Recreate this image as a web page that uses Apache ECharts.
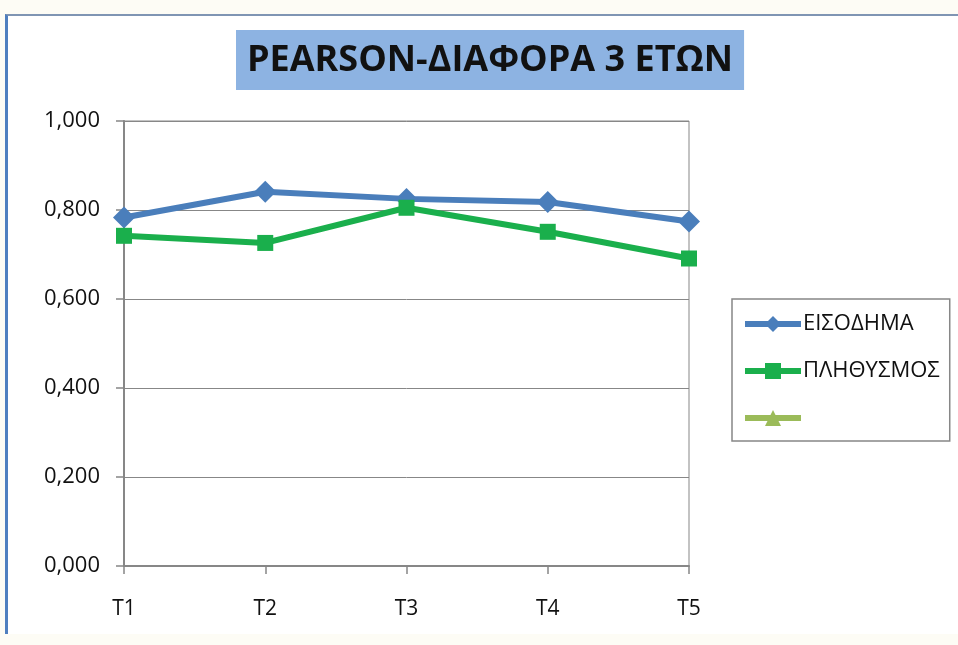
<!DOCTYPE html>
<html>
<head>
<meta charset="utf-8">
<script src="https://cdn.jsdelivr.net/npm/echarts@6/dist/echarts.min.js"></script>
<style>
  html, body { margin: 0; padding: 0; background: #ffffff; }
  #frame { position: absolute; left: 0; top: 0; width: 958px; height: 645px; background: #fdfcf5; }
  #chart { position: absolute; left: 5px; top: 14px; width: 960px; height: 620px; background: #ffffff;
           border-left: 3px solid #4f7fbf; border-top: 2px solid #7f95b3; box-sizing: border-box; }
</style>
</head>
<body>
<div id="frame"><div id="chart"></div></div>
<script>
// Categories and correlation values
const categories = ['T1', 'T2', 'T3', 'T4', 'T5'];
const income = [0.783, 0.841, 0.825, 0.818, 0.774];
const population = [0.742, 0.726, 0.805, 0.751, 0.691];

const chart = echarts.init(document.getElementById('chart'));
const fmt = v => v.toFixed(3).replace('.', ',');
const axisGray = '#878787';

chart.setOption({
  animation: false,
  title: {
    text: 'PEARSON-ΔΙΑΦΟΡΑ 3 ΕΤΩΝ',
    left: 228, top: 14,
    padding: [10, 11, 9, 11],
    backgroundColor: '#8db3e2',
    textStyle: { fontFamily: 'Open Sans', fontWeight: 'bold', fontSize: 36, color: '#111', lineHeight: 41 }
  },
  grid: { left: 116, top: 105, width: 565, height: 445, show: true, borderColor: axisGray, borderWidth: 1, backgroundColor: 'transparent' },
  legend: {
    orient: 'vertical',
    left: 724, top: 283,
    width: 221,
    padding: [14, 10, 12, 10],
    itemGap: 25,
    itemWidth: 56, itemHeight: 20,
    borderColor: axisGray, borderWidth: 1.5,
    lineStyle: { width: 6 },
    textStyle: { fontFamily: 'Open Sans', fontSize: 22, color: '#111', padding: [0, 17, 0, -3] },
    data: [
      { name: 'ΕΙΣΟΔΗΜΑ' },
      { name: 'ΠΛΗΘΥΣΜΟΣ' },
      { name: ' ' }
    ]
  },
  xAxis: {
    type: 'category',
    data: categories,
    boundaryGap: false,
    axisLine: { lineStyle: { color: axisGray, width: 2 } },
    axisTick: { show: true, length: 8, lineStyle: { color: axisGray, width: 1.5 } },
    axisLabel: { margin: 33, fontFamily: 'Open Sans', fontSize: 21, color: '#111' }
  },
  yAxis: {
    type: 'value',
    min: 0, max: 1, interval: 0.2,
    axisLine: { show: true, lineStyle: { color: axisGray, width: 2 } },
    axisTick: { show: true, length: 8, lineStyle: { color: axisGray, width: 1.5 } },
    splitLine: { lineStyle: { color: axisGray, width: 1 } },
    axisLabel: { margin: 24, fontFamily: 'Open Sans', fontSize: 22, color: '#111', formatter: v => fmt(v) }
  },
  series: [
    {
      name: 'ΕΙΣΟΔΗΜΑ', type: 'line', data: income,
      symbol: 'diamond', symbolSize: 22,
      lineStyle: { color: '#4a7ebb', width: 6 },
      itemStyle: { color: '#4a7ebb' }
    },
    {
      name: 'ΠΛΗΘΥΣΜΟΣ', type: 'line', data: population,
      symbol: 'rect', symbolSize: 16,
      lineStyle: { color: '#1aaf4c', width: 6 },
      itemStyle: { color: '#1aaf4c' }
    },
    {
      name: ' ', type: 'line', data: [],
      symbol: 'triangle', symbolSize: 16,
      lineStyle: { color: '#9bbb59', width: 6 },
      itemStyle: { color: '#9bbb59' }
    }
  ]
});
</script>
</body>
</html>
